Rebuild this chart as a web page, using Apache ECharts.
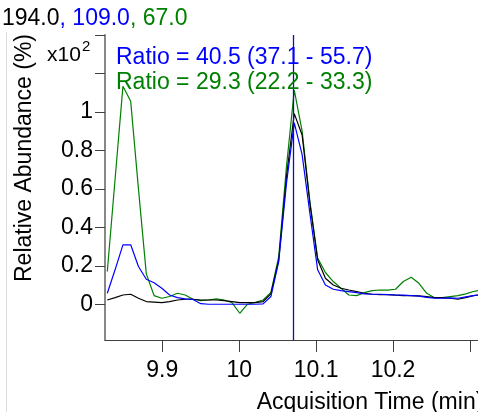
<!DOCTYPE html>
<html><head><meta charset="utf-8">
<script src="https://cdn.jsdelivr.net/npm/echarts@6/dist/echarts.min.js"></script>
<style>html,body{margin:0;padding:0;background:#fff}#c{width:478px;height:412px}</style>
</head><body><div id="c"></div>
<script>
const times = [9.8285,9.8386,9.8488,9.8589,9.8690,9.8792,9.8893,9.8994,9.9095,9.9197,9.9298,9.9399,9.9501,9.9602,9.9703,9.9805,9.9906,10.0007,10.0108,10.0210,10.0311,10.0412,10.0514,10.0615,10.0716,10.0818,10.0919,10.1020,10.1121,10.1223,10.1324,10.1425,10.1527,10.1628,10.1729,10.1831,10.1932,10.2033,10.2134,10.2236,10.2337,10.2438,10.2540,10.2641,10.2742,10.2844,10.2945,10.3046,10.3147];
const ion194 = [0.022,0.034,0.048,0.052,0.031,0.014,0.011,0.008,0.014,0.022,0.026,0.026,0.022,0.022,0.022,0.019,0.014,0.008,0.008,0.008,0.014,0.054,0.231,0.665,0.991,0.88,0.526,0.231,0.135,0.1,0.083,0.074,0.066,0.057,0.052,0.05,0.05,0.047,0.045,0.045,0.043,0.04,0.034,0.034,0.031,0.026,0.034,0.045,0.05];
const ion109 = [0.057,0.179,0.309,0.309,0.196,0.13,0.112,0.083,0.048,0.034,0.028,0.025,0.003,0,0,0,0,0,0,0,0.002,0.04,0.222,0.63,0.943,0.778,0.474,0.179,0.1,0.078,0.071,0.066,0.06,0.054,0.052,0.052,0.05,0.048,0.047,0.045,0.042,0.036,0.031,0.031,0.033,0.031,0.038,0.045,0.05];
const ion67 = [0.17,0.65,1.133,1.055,0.6,0.158,0.045,0.031,0.04,0.057,0.048,0.026,0.019,0.022,0.028,0.022,0.008,-0.047,0,0.01,0.022,0.062,0.248,0.717,1.113,0.9,0.534,0.24,0.165,0.118,0.083,0.048,0.045,0.06,0.071,0.074,0.073,0.078,0.118,0.14,0.109,0.057,0.034,0.034,0.04,0.045,0.054,0.066,0.075];
const xTicks = [9.9,10,10.1,10.2,10.3];
const xLabels = [9.9,10,10.1,10.2];
const yTicks = [0,0.2,0.4,0.6,0.8,1,1.2,1.4];
const yLabels = [0,0.2,0.4,0.6,0.8,1];
const markTime = 10.072;
const titleParts = ['194.0', ', 109.0', ', 67.0'];
const ratioLines = ['Ratio = 40.5 (37.1 - 55.7)', 'Ratio = 29.3 (22.2 - 33.3)'];

const FONT = '"Liberation Sans", Arial, sans-serif';
const chart = echarts.init(document.getElementById('c'), null, {renderer:'canvas'});
const pair = arr => times.map((t,i)=>[t,arr[i]]);
function ser(name, arr, color){
  return {name, type:'line', data:pair(arr), symbol:'none', clip:true,
    lineStyle:{color, width:1.2}, itemStyle:{color}, animation:false};
}
const s67 = ser('67.0', ion67, '#008000');
s67.markLine = {silent:true, symbol:'none', label:{show:false},
  lineStyle:{color:'#1010a8', width:1.3, type:'solid'}, data:[{xAxis:markTime}], animation:false};
chart.setOption({
  animation:false,
  grid:{left:105, right:0, top:35, bottom:72, containLabel:false},
  xAxis:{type:'value', min:9.8255, max:10.3105,
    axisLine:{show:true, onZero:false, lineStyle:{color:'#404040', width:1}},
    axisTick:{show:true, customValues:xTicks, length:12, lineStyle:{color:'#404040', width:1}},
    axisLabel:{customValues:xLabels, margin:19, color:'#000', fontSize:23, fontFamily:FONT,
      formatter:v=>String(+v.toFixed(1))},
    splitLine:{show:false}},
  yAxis:{type:'value', min:-0.186, max:1.4,
    axisLine:{show:true, onZero:false, lineStyle:{color:'#888', width:2}},
    axisTick:{show:true, customValues:yTicks, length:10, lineStyle:{color:'#404040', width:1}},
    axisLabel:{customValues:yLabels, margin:12, color:'#000', fontSize:23, fontFamily:FONT,
      formatter:v=>String(+v.toFixed(1))},
    splitLine:{show:false}},
  series:[s67, ser('194.0', ion194, '#000000'), ser('109.0', ion109, '#0000ff')],
  graphic:[
    {type:'line', shape:{x1:6.5,y1:32,x2:6.5,y2:412}, style:{stroke:'#dcdcdc', lineWidth:1}, silent:true},
    {type:'text', x:2, y:18.5, style:{
      text:'{k|'+titleParts[0]+'}{b|'+titleParts[1]+'}{g|'+titleParts[2]+'}',
      font:'23px '+FONT, verticalAlign:'middle', align:'left',
      rich:{k:{fill:'#000',fontSize:23,fontFamily:FONT},b:{fill:'#0000ff',fontSize:23,fontFamily:FONT},g:{fill:'#008000',fontSize:23,fontFamily:FONT}}}},
    {type:'text', x:116, y:57.8, z:10, style:{text:ratioLines[0], fill:'#0000ff', font:'23px '+FONT, verticalAlign:'middle'}},
    {type:'text', x:116, y:82.8, z:10, style:{text:ratioLines[1], fill:'#008000', font:'23px '+FONT, verticalAlign:'middle'}},
    {type:'text', x:47, y:55, style:{text:'x10', fill:'#000', font:'21px '+FONT, verticalAlign:'middle'}},
    {type:'text', x:82, y:47, style:{text:'2', fill:'#000', font:'15px '+FONT, verticalAlign:'middle'}},
    {type:'text', x:25, y:158, rotation:Math.PI/2, style:{text:'Relative Abundance (%)', fill:'#000', font:'23px '+FONT, align:'center', verticalAlign:'middle'}},
    {type:'text', x:256.7, y:403, style:{text:'Acquisition Time (min)', fill:'#000', font:'23px '+FONT, align:'left', verticalAlign:'middle'}}
  ]
});
</script></body></html>
